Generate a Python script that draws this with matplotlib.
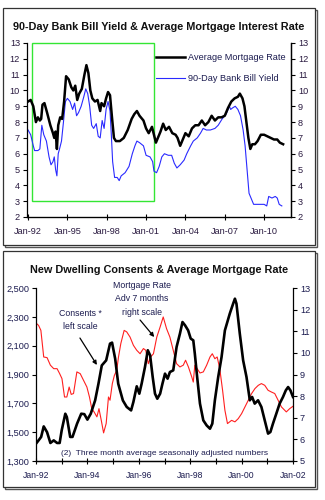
import matplotlib
matplotlib.use("Agg")
import matplotlib.pyplot as plt
from matplotlib.patches import Rectangle
from matplotlib.ticker import FuncFormatter, MultipleLocator, FixedLocator

plt.rcParams['font.family'] = ['Liberation Sans', 'DejaVu Sans']

# --- Top chart: 90-day bank bill yield and average mortgage rate (decimal years) ---
mort_t = [1992.0, 1992.2, 1992.4, 1992.6, 1992.75, 1992.9, 1993.0, 1993.1, 1993.25, 1993.45,
          1993.7, 1993.9, 1994.0, 1994.1, 1994.2, 1994.3, 1994.45, 1994.6, 1994.75, 1994.9,
          1995.1, 1995.3, 1995.45, 1995.6, 1995.75, 1995.9, 1996.1, 1996.3, 1996.45, 1996.6,
          1996.75, 1996.9, 1997.1, 1997.3, 1997.5, 1997.6, 1997.8, 1997.95, 1998.1, 1998.25,
          1998.4, 1998.55, 1998.7, 1999.0, 1999.3, 1999.6, 1999.9, 2000.1, 2000.3, 2000.5,
          2000.8, 2001.0, 2001.2, 2001.45, 2001.6, 2001.75, 2001.9, 2002.1, 2002.3, 2002.5,
          2002.75, 2003.0, 2003.25, 2003.4, 2003.6, 2003.8, 2004.0, 2004.25, 2004.5, 2004.75,
          2005.0, 2005.25, 2005.5, 2005.75, 2006.0, 2006.25, 2006.5, 2006.75, 2007.0, 2007.25,
          2007.5, 2007.75, 2008.0, 2008.15, 2008.35, 2008.5, 2008.65, 2008.8, 2008.95, 2009.1,
          2009.3, 2009.5, 2009.75, 2010.0, 2010.25, 2010.5, 2010.75, 2011.0, 2011.2, 2011.45]
mort_v = [9.3, 9.4, 9.0, 8.0, 8.3, 8.1, 8.2, 9.1, 9.2, 8.6,
          7.8, 7.3, 7.0, 7.4, 6.3, 7.8, 8.3, 8.2, 9.3, 10.9,
          10.7, 10.2, 10.0, 10.3, 9.4, 9.8, 10.1, 11.0, 11.6, 11.1,
          10.0, 9.5, 9.3, 9.4, 8.7, 9.2, 9.0, 9.5, 9.9, 9.7,
          8.3, 7.0, 6.8, 6.8, 7.0, 7.5, 8.2, 8.5, 8.7, 8.4,
          8.1, 7.6, 7.3, 7.7, 7.2, 6.7, 7.0, 7.4, 7.9, 7.5,
          7.7, 7.3, 7.2, 7.0, 6.5, 6.9, 7.3, 7.1, 7.6, 7.8,
          7.8, 8.1, 7.8, 8.0, 8.4, 8.1, 8.3, 8.3, 8.4, 8.9,
          9.3, 9.5, 9.6, 9.8, 9.5, 9.0, 8.0, 7.0, 6.3, 6.6,
          6.6, 6.8, 7.2, 7.2, 7.1, 7.0, 6.9, 6.9, 6.7, 6.6]

bill_t = [1992.0, 1992.2, 1992.4, 1992.5, 1992.75, 1992.9, 1993.05, 1993.2, 1993.4, 1993.6,
          1993.75, 1993.9, 1994.0, 1994.1, 1994.2, 1994.3, 1994.4, 1994.55, 1994.7, 1994.85,
          1995.0, 1995.2, 1995.4, 1995.55, 1995.7, 1995.85, 1996.05, 1996.25, 1996.4, 1996.55,
          1996.7, 1996.85, 1997.0, 1997.2, 1997.35, 1997.5, 1997.65, 1997.8, 1997.95, 1998.1,
          1998.25, 1998.35, 1998.45, 1998.6, 1998.8, 1998.95, 1999.1, 1999.4, 1999.7, 1999.95,
          2000.15, 2000.3, 2000.5, 2000.8, 2001.0, 2001.3, 2001.5, 2001.6, 2001.8, 2002.0,
          2002.2, 2002.4, 2002.7, 2002.95, 2003.15, 2003.35, 2003.6, 2003.9, 2004.1, 2004.4,
          2004.6, 2004.9, 2005.15, 2005.35, 2005.6, 2005.9, 2006.25, 2006.5, 2006.8, 2007.1,
          2007.35, 2007.45, 2007.6, 2007.8, 2008.0, 2008.2, 2008.4, 2008.55, 2008.7, 2008.85,
          2009.0, 2009.2, 2009.5, 2009.8, 2010.0, 2010.2, 2010.35, 2010.6, 2010.85, 2011.0,
          2011.15, 2011.35]
bill_v = [7.5, 7.2, 6.5, 6.2, 6.2, 6.3, 7.8, 7.2, 6.8, 5.8,
          5.3, 5.5, 5.8, 5.0, 4.6, 6.0, 6.3, 6.8, 8.0, 9.3,
          9.5, 9.3, 8.8, 9.2, 8.4, 8.6, 9.0, 9.6, 10.1, 9.8,
          9.0, 7.8, 7.6, 7.9, 7.1, 7.0, 8.1, 7.6, 8.8, 9.3,
          8.7, 7.2, 5.5, 4.5, 4.5, 4.3, 4.6, 4.8, 5.2, 6.0,
          6.5, 6.8, 6.7, 6.5, 5.9, 5.8, 5.5, 4.9, 4.8, 5.2,
          5.8, 6.0, 5.9, 5.9, 5.4, 5.1, 5.3, 5.6, 6.0, 6.5,
          6.8, 7.0, 7.3, 7.6, 7.5, 7.5, 7.6, 7.8, 8.2, 8.5,
          9.0, 8.8, 8.9, 9.0, 8.8, 8.4, 7.5, 6.5, 5.0, 3.5,
          3.2, 2.8, 2.8, 2.8, 2.8, 2.7, 3.3, 3.2, 3.3, 3.2,
          2.8, 2.7]

top_years = [1992, 1995, 1998, 2001, 2004, 2007, 2010]
top_labels = ["Jan-92", "Jan-95", "Jan-98", "Jan-01", "Jan-04", "Jan-07", "Jan-10"]
highlight = (1992.3, 2001.6, 3, 13)   # x0, x1, y0, y1 of the green box

# --- Bottom chart: new dwelling consents vs mortgage rate advanced 7 months ---
cons_t = [1992.0, 1992.1, 1992.2, 1992.3, 1992.43, 1992.56, 1992.69, 1992.82, 1992.92, 1993.0,
          1993.14, 1993.2, 1993.33, 1993.42, 1993.6, 1993.76, 1993.88, 1994.0, 1994.13, 1994.3,
          1994.43, 1994.56, 1994.73, 1994.88, 1994.96, 1995.08, 1995.2, 1995.38, 1995.53, 1995.7,
          1995.79, 1995.92, 1996.02, 1996.11, 1996.24, 1996.35, 1996.44, 1996.54, 1996.63, 1996.72,
          1996.83, 1996.92, 1997.02, 1997.12, 1997.21, 1997.34, 1997.47, 1997.6, 1997.7, 1997.8,
          1997.92, 1998.02, 1998.12, 1998.18, 1998.27, 1998.38, 1998.51, 1998.64, 1998.77, 1998.86,
          1998.96, 1999.09, 1999.22, 1999.35, 1999.54, 1999.67, 1999.74, 1999.8, 1999.93, 2000.06,
          2000.19, 2000.32, 2000.41, 2000.51, 2000.64, 2000.77, 2000.9, 2001.03, 2001.12, 2001.22,
          2001.35, 2001.48, 2001.61, 2001.72, 2001.81, 2001.9, 2002.0]
cons_v = [1420, 1443, 1467, 1540, 1500, 1425, 1443, 1425, 1425, 1513,
          1628, 1605, 1467, 1467, 1560, 1628, 1625, 1587, 1628, 1720,
          1836, 1963, 1998, 2114, 2121, 2010, 1836, 1720, 1675, 1651,
          1710, 1818, 1767, 1836, 1952, 2068, 2033, 1883, 1767, 1732,
          1767, 1836, 1906, 1871, 1917, 1929, 2091, 2183, 2264, 2241,
          2206, 2149, 2137, 2044, 1883, 1698, 1582, 1547, 1524, 1559,
          1721, 1883, 2021, 2206, 2322, 2391, 2426, 2391, 2183, 1998,
          1883, 1721, 1744, 1698, 1721, 1675, 1582, 1490, 1501, 1559,
          1628, 1698, 1744, 1790, 1813, 1790, 1744]

madv_t = [1992.0, 1992.1, 1992.19, 1992.3, 1992.43, 1992.56, 1992.69, 1992.82, 1992.92, 1993.01,
          1993.11, 1993.2, 1993.29, 1993.37, 1993.46, 1993.59, 1993.72, 1993.85, 1993.98, 1994.08,
          1994.17, 1994.26, 1994.37, 1994.45, 1994.54, 1994.63, 1994.73, 1994.82, 1994.88, 1994.97,
          1995.05, 1995.14, 1995.21, 1995.3, 1995.43, 1995.53, 1995.66, 1995.79, 1995.92, 1996.05,
          1996.18, 1996.27, 1996.37, 1996.46, 1996.57, 1996.7, 1996.83, 1996.95, 1997.08, 1997.21,
          1997.34, 1997.47, 1997.6, 1997.73, 1997.82, 1997.93, 1998.06, 1998.12, 1998.18, 1998.27,
          1998.38, 1998.51, 1998.64, 1998.77, 1998.86, 1998.96, 1999.05, 1999.15, 1999.26, 1999.35,
          1999.45, 1999.61, 1999.74, 1999.87, 2000.0, 2000.13, 2000.26, 2000.39, 2000.52, 2000.65,
          2000.77, 2000.9, 2001.03, 2001.16, 2001.29, 2001.42, 2001.55, 2001.74, 2001.87, 2002.0]
madv_v = [11.38, 11.27, 11.04, 9.81, 9.78, 9.43, 9.27, 9.27, 9.04, 8.81,
          7.96, 7.96, 8.42, 8.08, 8.12, 9.12, 9.04, 8.73, 8.42, 7.96,
          7.42, 7.27, 7.04, 7.42, 6.88, 6.30, 6.73, 7.96, 7.81, 8.58,
          8.96, 9.19, 9.81, 10.43, 11.04, 10.97, 10.73, 10.35, 10.12, 9.96,
          10.20, 10.12, 9.50, 9.81, 9.96, 10.73, 11.2, 11.66, 11.12, 10.73,
          10.12, 9.50, 9.35, 9.43, 9.66, 9.35, 8.89, 8.65, 9.43, 9.27,
          9.07, 9.12, 9.43, 9.81, 9.96, 9.73, 9.81, 9.27, 8.27, 7.35,
          6.73, 6.88, 6.81, 6.96, 7.19, 7.50, 7.81, 8.12, 8.35, 8.50,
          8.58, 8.50, 8.27, 8.19, 8.12, 7.81, 7.50, 7.27, 7.42, 7.53]

bot_years = [1992, 1994, 1996, 1998, 2000, 2002]
bot_labels = ["Jan-92", "Jan-94", "Jan-96", "Jan-98", "Jan-00", "Jan-02"]
cons_ticks = [1300, 1500, 1700, 1900, 2100, 2300, 2500]

W, H = 325, 500
label_col = "#2a1a40"
txt_col = "#1c1c50"


def frac(x0, y0, x1, y1):
    """pixel box (top-left origin) -> figure fraction [left, bottom, width, height]"""
    return [x0 / W, 1 - y1 / H, (x1 - x0) / W, (y1 - y0) / H]


fig = plt.figure(figsize=(W / 100, H / 100), dpi=100)

# panel frames with a drop shadow, kept underneath the axes
for (x0, y0, x1, y1) in [(3, 8, 315, 245), (3, 251, 315, 487)]:
    b = frac(x0 + 2, y0 + 2, x1 + 2, y1 + 2)
    fig.add_artist(Rectangle((b[0], b[1]), b[2], b[3], transform=fig.transFigure,
                             fill=False, ec="#555555", lw=1.0, zorder=-20))
    b = frac(x0, y0, x1, y1)
    fig.add_artist(Rectangle((b[0], b[1]), b[2], b[3], transform=fig.transFigure,
                             fc="white", ec="#333333", lw=0.9, zorder=-10))

# ---------------- top chart ----------------
ax1 = fig.add_axes(frac(27, 43, 291, 217))
ax1.set_facecolor("none")
ax1.plot(bill_t, bill_v, color="#2a2aff", lw=0.8, label="90-Day Bank Bill Yield")
ax1.plot(mort_t, mort_v, color="black", lw=1.8, label="Average Mortgage Rate")
x0, x1, y0, y1 = highlight
ax1.add_patch(Rectangle((x0, y0), x1 - x0, y1 - y0, fill=False, ec="#33e633",
                        lw=1.0, clip_on=False))
ax1.set_xlim(1991.92, 2012.05)
ax1.set_ylim(2, 13)
ax1.yaxis.set_major_locator(MultipleLocator(1))
ax1.xaxis.set_major_locator(FixedLocator(top_years))
ax1.set_xticklabels(top_labels)
ax1.spines["top"].set_visible(False)
ax1.tick_params(axis="y", direction="out", length=3, width=0.8, labelsize=6.6,
                labelcolor=label_col, pad=2, left=True, right=False)
ax1.tick_params(axis="x", direction="inout", length=4, width=0.8, labelsize=6.6,
                labelcolor=label_col, pad=5)
for s in ax1.spines.values():
    s.set_linewidth(0.9)

ax1r = ax1.twinx()
ax1r.set_ylim(2, 13)
ax1r.yaxis.set_major_locator(MultipleLocator(1))
ax1r.spines["top"].set_visible(False)
ax1r.spines["left"].set_visible(False)
ax1r.spines["right"].set_linewidth(0.9)
ax1r.tick_params(axis="y", direction="out", length=3, width=0.8, labelsize=6.6,
                 labelcolor=label_col, pad=2)

h, l = ax1.get_legend_handles_labels()
ax1.legend(h[::-1], l[::-1], loc="upper right", bbox_to_anchor=(1.0, 0.975),
           frameon=False, fontsize=6.6, labelcolor=txt_col, handlelength=3.2,
           handletextpad=0.3, labelspacing=1.3, borderaxespad=0.2)

fig.text(159 / W, 1 - 27 / H, "90-Day Bank Bill Yield & Average Mortgage Interest Rate",
         ha="center", va="center", fontsize=7.8, fontweight="bold", color="#111111")

# ---------------- bottom chart ----------------
ax2 = fig.add_axes(frac(36, 288, 293, 461))
ax2.set_facecolor("none")
ax2r = ax2.twinx()
ax2r.plot(madv_t, madv_v, color="#ff2020", lw=0.8)
ax2.plot(cons_t, cons_v, color="black", lw=1.9, zorder=3)
ax2.set_zorder(ax2r.get_zorder() + 1)

ax2.set_xlim(1992, 2002)
ax2.set_ylim(1300, 2500)
ax2.yaxis.set_major_locator(FixedLocator(cons_ticks))
ax2.yaxis.set_major_formatter(FuncFormatter(lambda v, p: f"{v:,.0f}"))
ax2.xaxis.set_major_locator(FixedLocator(bot_years))
ax2.xaxis.set_minor_locator(MultipleLocator(1))
ax2.set_xticklabels(bot_labels)
ax2r.set_ylim(5, 13)
ax2r.yaxis.set_major_locator(MultipleLocator(1))
for a in (ax2, ax2r):
    a.spines["top"].set_visible(False)
    for s in a.spines.values():
        s.set_linewidth(0.9)
ax2.spines["right"].set_visible(False)
ax2r.spines["left"].set_visible(False)
ax2.tick_params(axis="y", direction="out", length=3, width=0.8, labelsize=6.6,
                labelcolor=txt_col, pad=2)
ax2r.tick_params(axis="y", direction="out", length=3, width=0.8, labelsize=6.6,
                 labelcolor=txt_col, pad=2)
ax2.tick_params(axis="x", which="both", direction="inout", length=4, width=0.8,
                labelsize=6.2, labelcolor=txt_col, pad=5)

# callouts: text labels and the arrows pointing at each series
arrow = dict(arrowstyle="-|>", color="black", lw=0.9, mutation_scale=6,
             shrinkA=0, shrinkB=0)
ax2.text(1993.71, 2278, "Consents *\nleft scale", ha="center", va="center",
         fontsize=6.3, color=txt_col, linespacing=1.6)
ax2.annotate("", xy=(1994.37, 1966), xytext=(1993.71, 2153), arrowprops=arrow)
ax2.text(1996.12, 2424, "Mortgage Rate\nAdv 7 months\nright scale", ha="center",
         va="center", fontsize=6.3, color=txt_col, linespacing=1.6)
ax2.annotate("", xy=(1996.6, 2160), xytext=(1996.05, 2278), arrowprops=arrow)
ax2.text(0.5, 0.046, "(2)  Three month average seasonally adjusted numbers",
         transform=ax2.transAxes, ha="center", va="center", fontsize=6.0, color=txt_col)

fig.text(159.5 / W, 1 - 270 / H, "New Dwelling Consents & Average Mortgage Rate",
         ha="center", va="center", fontsize=7.8, fontweight="bold", color="#111111")

fig.savefig("out.png", dpi=100)
